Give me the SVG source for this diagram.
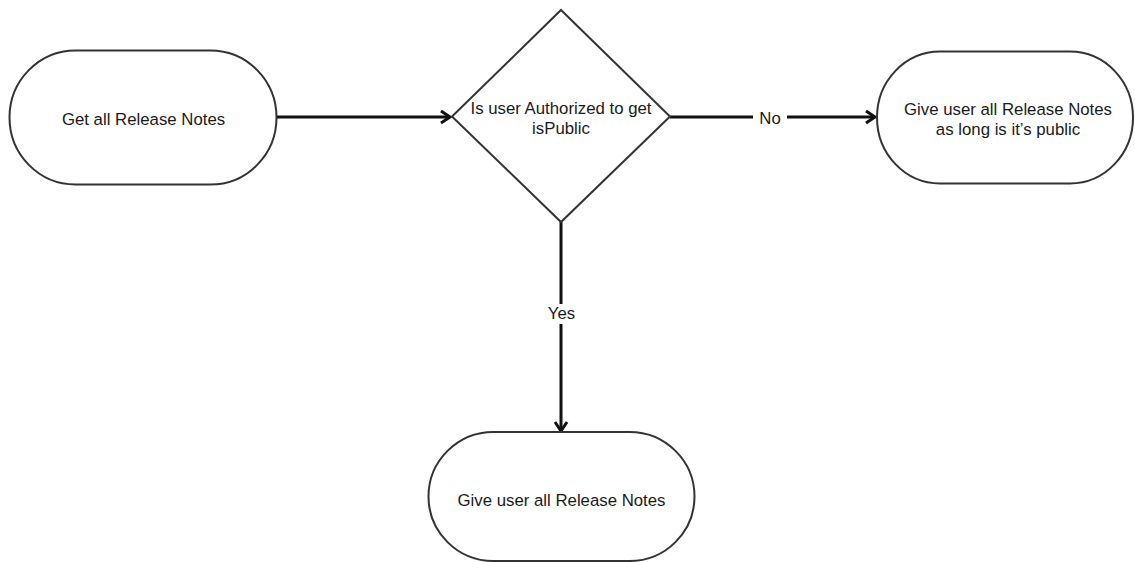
<svg xmlns="http://www.w3.org/2000/svg" width="1135" height="562" viewBox="0 0 1135 562">
<defs>
<style>
.shape{fill:#ffffff;stroke:#333333;stroke-width:2}
.edge{fill:none;stroke:#111111;stroke-width:3}
.txt{font-family:"Liberation Sans",Arial,sans-serif;font-size:16.8px;fill:#1a1a1a;text-anchor:middle}
.lbl{fill:#ffffff;stroke:none}
</style>
<marker id="arr" markerUnits="userSpaceOnUse" markerWidth="16" markerHeight="16" viewBox="-12 -8 16 16" refX="0" refY="0" orient="auto">
<path d="M-9,-6 L0,0 L-9,6" fill="none" stroke="#111111" stroke-width="3"/>
</marker>
</defs>
<rect width="1135" height="562" fill="#ffffff"/>
<g id="connectors">
<path class="edge" d="M277,117 L450,117" marker-end="url(#arr)"/>
<path class="edge" d="M670,117 L875,117" marker-end="url(#arr)"/>
<rect class="lbl" x="753" y="108" width="34" height="20"/>
<text class="txt" x="770" y="124">No</text>
<path class="edge" d="M561,222 L561,431" marker-end="url(#arr)"/>
<rect class="lbl" x="546" y="304" width="31" height="20"/>
<text class="txt" x="561.5" y="319">Yes</text>
</g>
<g id="node-get-all">
<rect class="shape" x="9.5" y="50.5" width="267" height="134" rx="66" ry="67"/>
<text class="txt" x="143.5" y="125">Get all Release Notes</text>
</g>
<g id="node-decision">
<polygon class="shape" points="561,10 670,116.5 561,222 452,116.5"/>
<text class="txt" x="561" y="114">Is user Authorized to get</text>
<text class="txt" x="561" y="134">isPublic</text>
</g>
<g id="node-public">
<rect class="shape" x="877" y="51.5" width="256" height="132" rx="63" ry="66"/>
<text class="txt" x="1008" y="115">Give user all Release Notes</text>
<text class="txt" x="1008" y="135">as long is it’s public</text>
</g>
<g id="node-all">
<rect class="shape" x="428.5" y="432" width="266" height="129" rx="65" ry="64.5"/>
<text class="txt" x="561.5" y="506">Give user all Release Notes</text>
</g>
</svg>
